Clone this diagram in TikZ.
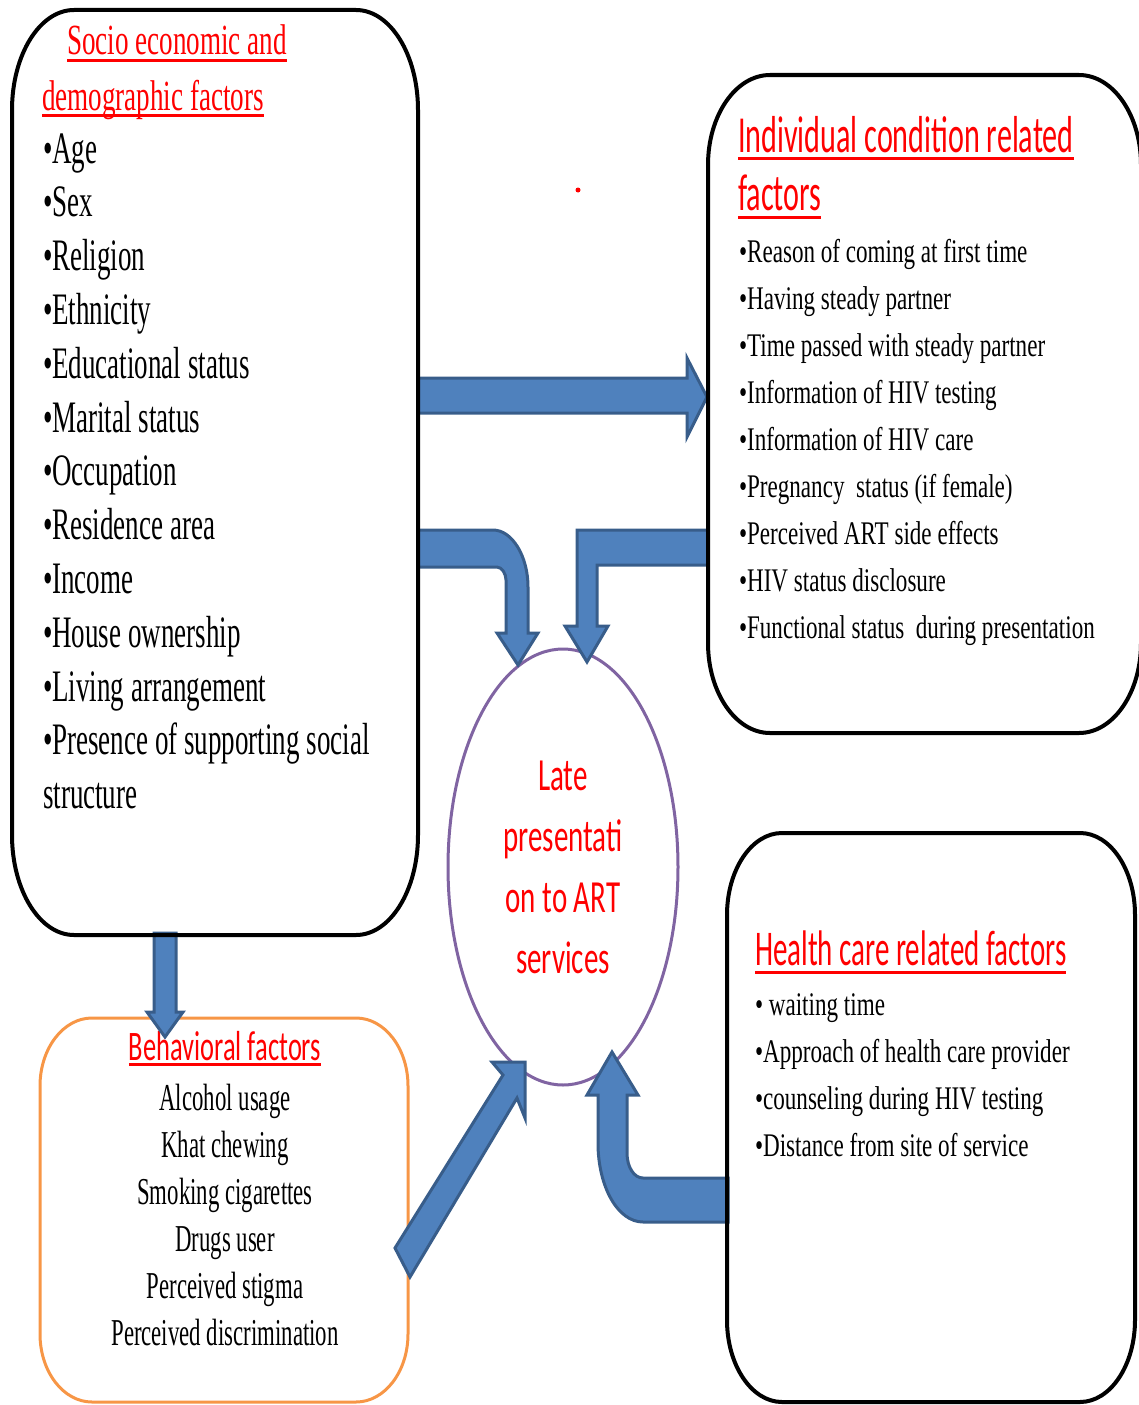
\documentclass[tikz,border=0pt]{standalone}
\usepackage{fontspec}
\usetikzlibrary{shapes.geometric}
\newfontfamily\serifN[FakeStretch=0.6]{Liberation Serif}
\newfontfamily\serifH[FakeStretch=0.63]{Liberation Serif}
\newfontfamily\serifM[FakeStretch=0.70]{Liberation Serif}
\newfontfamily\sansN[FakeStretch=0.58]{Carlito}
\newfontfamily\sansM[FakeStretch=0.63]{Carlito}
\definecolor{arrowfill}{HTML}{4F81BD}
\definecolor{arrowline}{HTML}{385D8A}
\definecolor{ellline}{HTML}{8064A2}
\definecolor{orangeline}{HTML}{F79646}
% rounded box with elliptical corners: style, x1, y1, x2, y2, rx, ry
\newcommand\myrbox[7]{%
  \draw[#1] (#2+#6,#3) -- (#4-#6,#3)
    .. controls (#4-0.4477*#6,#3) and (#4,#3+0.4477*#7) .. (#4,#3+#7)
    -- (#4,#5-#7)
    .. controls (#4,#5-0.4477*#7) and (#4-0.4477*#6,#5) .. (#4-#6,#5)
    -- (#2+#6,#5)
    .. controls (#2+0.4477*#6,#5) and (#2,#5-0.4477*#7) .. (#2,#5-#7)
    -- (#2,#3+#7)
    .. controls (#2,#3+0.4477*#7) and (#2+0.4477*#6,#3) .. (#2+#6,#3) -- cycle;}
\tikzset{
  blockarrow/.style={fill=arrowfill, draw=arrowline, line width=3pt, line join=miter},
  blackbox/.style={draw=black, line width=4pt},
  orangebox/.style={draw=orangeline, line width=3pt},
  txt/.style={anchor=base west, inner sep=0pt, outer sep=0pt},
  ctxt/.style={anchor=base, inner sep=0pt, outer sep=0pt},
  uline/.style={draw=red, line width=3pt},
  leftitem/.style={txt, font=\serifN\fontsize{45}{54}\selectfont},
  lefthead/.style={txt, text=red, font=\serifH\fontsize{43}{52}\selectfont},
  rightitem/.style={txt, font=\serifM\fontsize{33}{40}\selectfont},
  righthead/.style={txt, text=red, font=\sansN\fontsize{52}{60}\selectfont},
  healthitem/.style={txt, font=\serifM\fontsize{33}{40}\selectfont},
  healthhead/.style={txt, text=red, font=\sansN\fontsize{50}{60}\selectfont},
  behitem/.style={ctxt, font=\serifN\fontsize{38}{46}\selectfont},
  behhead/.style={ctxt, text=red, font=\sansM\fontsize{42}{50}\selectfont},
}
\begin{document}
\begin{tikzpicture}[x=1pt,y=-1pt]
\useasboundingbox (0,0) rectangle (1138,1405);

% Behavioral box
\myrbox{orangebox}{40}{1018}{408}{1402}{52}{68}
\node[behhead] (bh) at (225,1060) {Behavioral factors};
\draw[uline] ([yshift=-4pt]bh.base west) -- ([yshift=-4pt]bh.base east);
\foreach \t [count=\i] in {Alcohol usage, Khat chewing, Smoking cigarettes, Drugs user, Perceived stigma, Perceived discrimination}
  \node[behitem] (b\i) at (225,{1110+47*(\i-1)}) {\t};

% central ellipse
\node[draw=ellline, line width=3pt, ellipse, minimum width=230pt, minimum height=436pt,
      inner sep=0pt, align=center, text=red, font=\sansM\fontsize{46}{61}\selectfont]
      (late) at (563,867) {Late\\presentati\\on to ART\\services};

\fill[red] (578,190) circle (2.5);

% block arrows
% A: socio -> individual
\draw[blockarrow] (418,378) -- (687,378) -- (687,358) -- (707,397) -- (687,437) -- (687,413) -- (418,413) -- cycle;
% B: socio -> late (bent)
\draw[blockarrow] (418,530) -- (493,530) .. controls (512,530) and (528,556) .. (528,587)
   -- (528,633) -- (538,633) -- (518,665) -- (497,633) -- (506,633) -- (506,580)
   .. controls (506,574) and (502,567) .. (497,567) -- (418,567) -- cycle;
% C: individual -> late
\draw[blockarrow] (708,530) -- (577,530) -- (577,626) -- (565,626) -- (587,662) -- (608,626)
   -- (597,626) -- (597,565) -- (708,565) -- cycle;
% D: behavioral -> late
\draw[blockarrow] (395,1248) -- (503,1075) -- (492,1062) -- (525,1062) -- (525,1118)
   -- (517,1098) -- (410,1277) -- cycle;
% E: health -> late
\draw[blockarrow] (728,1178) -- (643,1178) .. controls (634,1178) and (627,1167) .. (627,1153)
   -- (627,1095) -- (638,1095) -- (612,1052) -- (587,1095) -- (598,1095) -- (598,1143)
   .. controls (598,1187) and (618,1222) .. (643,1222) -- (728,1222) -- cycle;
% F: socio -> behavioral
\draw[blockarrow] (154,933) -- (154,1012) -- (147,1012) -- (165,1037) -- (183,1012)
   -- (176,1012) -- (176,933) -- cycle;

% black boxes
\myrbox{blackbox}{12}{10}{418}{935}{62}{100}
\myrbox{blackbox}{708}{75}{1141}{733}{62}{90}
\myrbox{blackbox}{727}{833}{1135}{1402}{55}{82}

% Socio economic box text
\node[lefthead] (sh1) at (67,55) {Socio economic and};
\draw[uline] ([yshift=-6pt]sh1.base west) -- ([yshift=-6pt]sh1.base east);
\node[lefthead] (sh2) at (42,110) {demographic factors};
\draw[uline] ([yshift=-5pt]sh2.base west) -- ([yshift=-5pt]sh2.base east);
\foreach \t [count=\i] in {•Age, •Sex, •Religion, •Ethnicity, •Educational status, •Marital status, •Occupation, •Residence area, •Income, •House ownership, •Living arrangement, •Presence of supporting social, structure}
  \node[leftitem] (s\i) at (43,{163+53.8*(\i-1)}) {\t};

% Individual condition box text
\node[righthead] (ih1) at (738,152) {Individual condition related};
\draw[uline] ([yshift=-6pt]ih1.base west) -- ([yshift=-6pt]ih1.base east);
\node[righthead] (ih2) at (738,210) {factors};
\draw[uline] ([yshift=-7pt]ih2.base west) -- ([yshift=-7pt]ih2.base east);
\foreach \t [count=\i] in {•Reason of coming at first time, •Having steady partner, •Time passed with steady partner, •Information of HIV testing, •Information of HIV care, •Pregnancy\ \ status (if female), •Perceived ART side effects, •HIV status disclosure, •Functional status\ \ during presentation}
  \node[rightitem] (r\i) at (739,{262+47*(\i-1)}) {\t};

% Health care box text
\node[healthhead] (hh) at (755,965) {Health care related factors};
\draw[uline] ([yshift=-7pt]hh.base west) -- ([yshift=-7pt]hh.base east);
\foreach \t [count=\i] in {•\ waiting time, •Approach of health care provider, •counseling during HIV testing, •Distance from site of service}
  \node[healthitem] (h\i) at (755,{1015+47.3*(\i-1)}) {\t};
\end{tikzpicture}
\end{document}
